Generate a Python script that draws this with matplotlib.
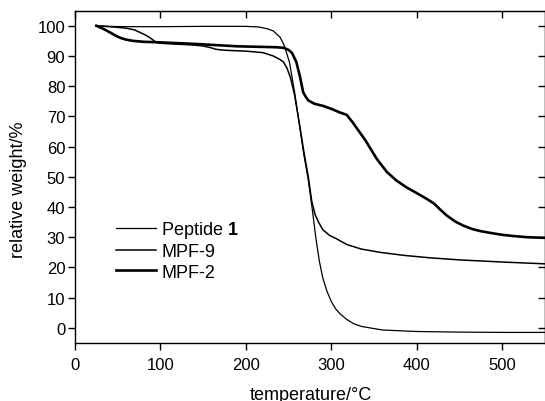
import matplotlib
matplotlib.use("Agg")
import matplotlib.pyplot as plt

plt.rcParams['font.family'] = ['Liberation Sans', 'DejaVu Sans']
plt.rcParams['mathtext.fontset'] = 'custom'
plt.rcParams['mathtext.rm'] = 'Liberation Sans'
plt.rcParams['mathtext.bf'] = 'Liberation Sans:bold'

# Peptide 1 (thin line, burns off completely)
pep_t = [25, 40, 60, 100, 150, 200, 215, 225, 232, 240, 245, 251, 257, 263, 268, 273,
         278, 282, 286, 290, 295, 300, 305, 310, 318, 326, 335, 345, 360, 400, 450, 500, 550]
pep_w = [100, 99.8, 99.7, 99.7, 99.8, 99.8, 99.6, 99.0, 98.3, 96.2, 93.4, 87.9, 78, 66.4, 57, 49,
         38.5, 29.5, 22, 16.5, 12, 8.7, 6.3, 4.7, 2.8, 1.4, 0.5, 0, -0.7, -1.2, -1.4, -1.5, -1.5]

# MPF-9
mpf9_t = [25, 35, 45, 60, 70, 76, 82, 88, 95, 100, 120, 140, 150, 158, 165, 175, 200, 220, 232,
          240, 244, 248, 252, 257, 263, 268, 273, 277, 281, 285, 290, 298, 306, 318, 335, 357,
          385, 415, 450, 500, 550]
mpf9_w = [100, 99.8, 99.6, 99.2, 98.6, 97.8, 97, 96, 94.5, 94.2, 93.9, 93.6, 93.3, 92.8, 92.2,
          91.9, 91.6, 91.1, 90.0, 88.8, 88, 86, 83, 77, 67, 58, 50, 42, 37.5, 35, 32.5, 30.6,
          29.5, 27.6, 26.1, 25, 24, 23.2, 22.5, 21.8, 21.2]

# MPF-2 (thick line)
mpf2_t = [25, 33, 41, 47, 53, 60, 68, 80, 100, 140, 190, 220, 235, 244, 250, 254, 259, 263, 267,
          270, 273, 280, 290, 300, 310, 318, 325, 333, 340, 353, 365, 376, 388, 400, 411, 420,
          428, 435, 445, 454, 465, 475, 485, 500, 513, 530, 550]
mpf2_w = [100, 99, 97.8, 96.8, 96, 95.4, 95, 94.7, 94.5, 94, 93.2, 93, 92.9, 92.7, 92, 91, 88,
          83.5, 78, 76.5, 75.3, 74.2, 73.5, 72.5, 71.3, 70.5, 68, 64.8, 62, 56, 51.6, 48.8, 46.5,
          44.6, 42.8, 41.2, 39, 37.2, 35.2, 33.9, 32.7, 32, 31.5, 30.8, 30.4, 30, 29.8]

fig = plt.figure(figsize=(5.45, 4.02), dpi=100)
ax = fig.add_axes([0.1376, 0.1443, 0.8624, 0.8267])

ax.plot(pep_t, pep_w, color='black', lw=0.9, label=r'Peptide $\mathbf{1}$')
ax.plot(mpf9_t, mpf9_w, color='black', lw=1.1, label='MPF-9')
ax.plot(mpf2_t, mpf2_w, color='black', lw=1.9, label='MPF-2')

ax.set_xlim(0, 550)
ax.set_ylim(-5, 105)
ax.set_xticks(range(0, 501, 100))
ax.set_yticks(range(0, 101, 10))
ax.tick_params(direction='out', length=5, width=1, labelsize=12, pad=2)
ax.tick_params(axis='x', pad=5)
for s in ax.spines.values():
    s.set_linewidth(1)

# mirrored ticks on top and right, pointing inwards
top = ax.secondary_xaxis('top')
top.set_xticks(range(0, 501, 100))
top.tick_params(direction='in', length=5, width=1, labeltop=False)
right = ax.secondary_yaxis('right')
right.set_yticks(range(0, 101, 10))
right.tick_params(direction='in', length=5, width=1, labelright=False)

ax.set_xlabel('temperature/°C', fontsize=13)
ax.set_ylabel('relative weight/%', fontsize=13)
ax.xaxis.set_label_coords(0.502, -0.128)
ax.yaxis.set_label_coords(-0.102, 0.463)

ax.legend(loc='upper left', bbox_to_anchor=(0.088, 0.372), frameon=False, fontsize=13,
          handlelength=2.2, handletextpad=0.3, labelspacing=0.17, borderpad=0,
          borderaxespad=0)

fig.savefig('out.png', dpi=100)
